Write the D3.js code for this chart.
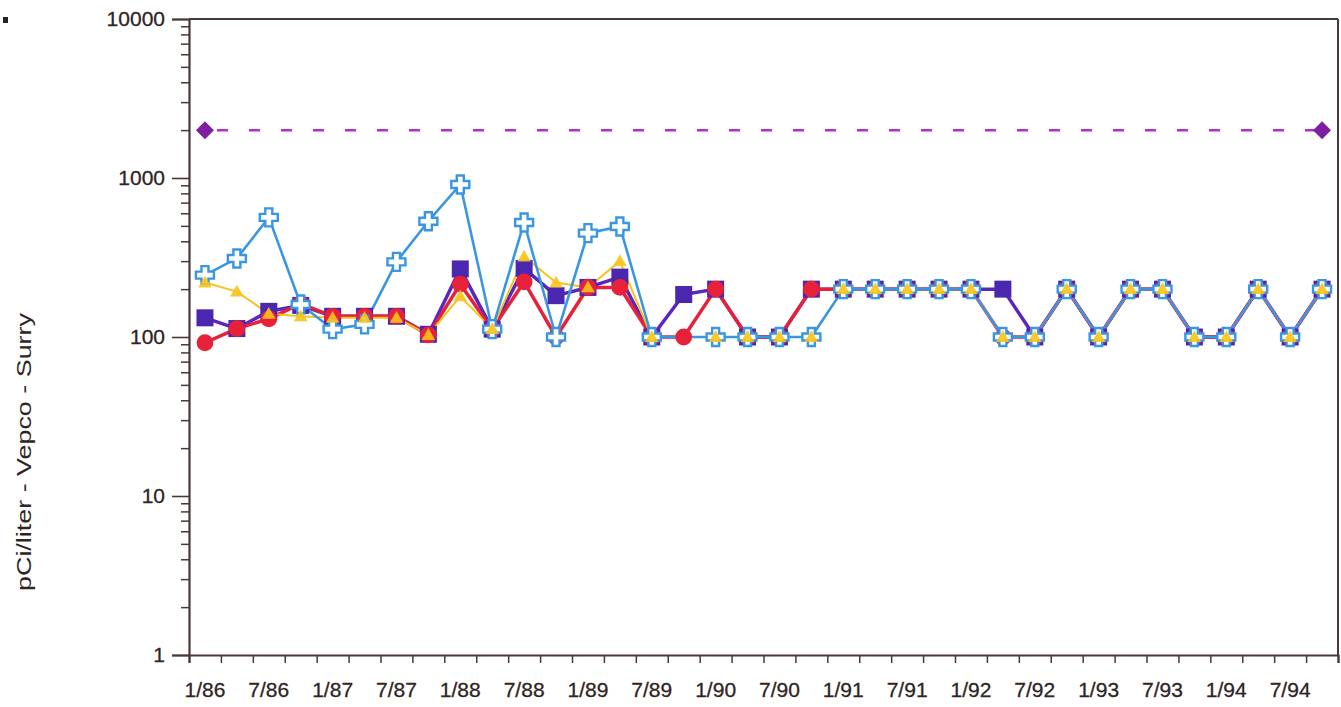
<!DOCTYPE html>
<html>
<head>
<meta charset="utf-8">
<script src="https://cdn.jsdelivr.net/npm/d3@7"></script>
<style>
  html, body { margin: 0; padding: 0; background: #fff; }
  svg { display: block; }
  text { font-family: "Liberation Sans", Arial, sans-serif; fill: #2f2424; }
</style>
</head>
<body>
<svg id="chart" width="1341" height="707"></svg>
<script>
// ---------------- DATA ----------------
const categories = ["1/86","4/86","7/86","10/86","1/87","4/87","7/87","10/87",
  "1/88","4/88","7/88","10/88","1/89","4/89","7/89","10/89",
  "1/90","4/90","7/90","10/90","1/91","4/91","7/91","10/91",
  "1/92","4/92","7/92","10/92","1/93","4/93","7/93","10/93",
  "1/94","4/94","7/94","10/94"];
const tickLabels = ["1/86","7/86","1/87","7/87","1/88","7/88","1/89","7/89","1/90",
  "7/90","1/91","7/91","1/92","7/92","1/93","7/93","1/94","7/94"];
const yTickValues = [1, 10, 100, 1000, 10000];

const seriesSquare = [132,113,145,158,135,135,135,104,268,112,270,182,205,238,100,185,
  200,100,100,200,200,200,200,200,200,200,100,200,100,200,200,100,100,200,100,200];
const seriesCircle = [92,113,130,162,135,135,135,103,215,112,222,100,205,205,100,100,
  200,100,100,200,200,200,200,200,200,100,100,200,100,200,200,100,100,200,100,200];
const seriesTriangle = [220,193,140,135,132,132,132,103,180,112,320,220,205,300,100,null,
  100,100,100,100,200,200,200,200,200,100,100,200,100,200,200,100,100,200,100,200];
const seriesCross = [245,312,565,160,112,120,297,535,910,112,525,100,450,495,100,null,
  100,100,100,100,200,200,200,200,200,100,100,200,100,200,200,100,100,200,100,200];
const limitCategories = ["1/86","10/94"];
const limitValues = [2000, 2000];

// ---------------- LAYOUT ----------------
const svg = d3.select("#chart");
const mLeft = 189, mRight = 1338, mTop = 19, mBottom = 655;
const axisColor = "#4a3838";

const x = d3.scaleBand().domain(categories).range([mLeft, mRight]).padding(0);
const bw = x.bandwidth();
const cx = c => x(c) + bw / 2;
const y = d3.scaleLog().domain([1, 10000]).range([mBottom, mTop]);
const xb = d3.scaleLinear().domain([0, categories.length]).range([mLeft, mRight]);

// stray scan mark
svg.append("rect").attr("x", 3).attr("y", 17).attr("width", 5).attr("height", 6).attr("fill", "#222");

// frame (top + right)
svg.append("line").attr("x1", mLeft).attr("x2", mRight).attr("y1", mTop).attr("y2", mTop)
  .attr("stroke", axisColor).attr("stroke-width", 2);
svg.append("line").attr("x1", mRight).attr("x2", mRight).attr("y1", mTop).attr("y2", mBottom)
  .attr("stroke", axisColor).attr("stroke-width", 2);

// y axis: minor ticks
const minor = [];
for (let d = 1; d < 10000; d *= 10) for (let k = 2; k <= 9; k++) minor.push(d * k);
const yMinor = svg.append("g").attr("transform", `translate(${mLeft},0)`)
  .call(d3.axisLeft(y).tickValues(minor).tickSize(8).tickFormat(""));
yMinor.select(".domain").remove();
yMinor.selectAll("line").attr("stroke", axisColor).attr("stroke-width", 1.5);

// y axis: major
const yAx = svg.append("g").attr("transform", `translate(${mLeft},0)`)
  .call(d3.axisLeft(y).tickValues(yTickValues).tickSize(17).tickPadding(7).tickFormat(d3.format("d")));
yAx.select(".domain").attr("stroke", axisColor).attr("stroke-width", 2.2);
yAx.selectAll("line").attr("stroke", axisColor).attr("stroke-width", 1.6);
yAx.selectAll("text").style("font-size", "21px").attr("fill", "#2f2424")
  .attr("stroke", "#2f2424").attr("stroke-width", 0.3);

// x axis: boundary ticks
const xTicks = svg.append("g").attr("transform", `translate(0,${mBottom})`)
  .call(d3.axisBottom(xb).tickValues(d3.range(categories.length + 1)).tickSize(8).tickFormat(""));
xTicks.select(".domain").attr("stroke", axisColor).attr("stroke-width", 2.2);
xTicks.selectAll("line").attr("stroke", axisColor).attr("stroke-width", 1.5);

// x axis: labels at category centres
const xLab = svg.append("g").attr("transform", `translate(0,${mBottom})`)
  .call(d3.axisBottom(x).tickValues(tickLabels).tickSize(0).tickPadding(27));
xLab.select(".domain").remove();
xLab.selectAll("text").style("font-size", "21px").attr("fill", "#2f2424")
  .attr("stroke", "#2f2424").attr("stroke-width", 0.3);

// y axis title
svg.append("text")
  .attr("transform", "translate(31,452) rotate(-90)")
  .attr("text-anchor", "middle")
  .attr("textLength", 278)
  .attr("lengthAdjust", "spacingAndGlyphs")
  .style("font-size", "21px")
  .text("pCi/liter - Vepco - Surry");

// ---------------- SERIES ----------------
function pts(vals) {
  return categories.map((c, i) => ({c, v: vals[i]})).filter(d => d.v != null);
}
const line = d3.line().x(d => cx(d.c)).y(d => y(d.v));

const cols = {
  square: "#4b27b0", squareLine: "#5a26c0",
  circle: "#e8213a",
  tri: "#f6c41c",
  cross: "#3a96e2",
  limit: "#b62ccc", diamond: "#7d1fa0"
};

// limit line
const limPts = limitCategories.map((c, i) => ({c, v: limitValues[i]}));
svg.append("path").attr("d", line(limPts)).attr("fill", "none")
  .attr("stroke", cols.limit).attr("stroke-width", 2.5)
  .attr("stroke-dasharray", "11,21").attr("stroke-dashoffset", -12);

// lines
svg.append("path").attr("d", line(pts(seriesSquare))).attr("fill", "none")
  .attr("stroke", cols.squareLine).attr("stroke-width", 3.5).attr("stroke-linejoin", "round");
svg.append("path").attr("d", line(pts(seriesCircle))).attr("fill", "none")
  .attr("stroke", cols.circle).attr("stroke-width", 3.5).attr("stroke-linejoin", "round");
svg.append("path").attr("d", line(pts(seriesTriangle))).attr("fill", "none")
  .attr("stroke", cols.tri).attr("stroke-width", 2).attr("stroke-linejoin", "round");
svg.append("path").attr("d", line(pts(seriesCross))).attr("fill", "none")
  .attr("stroke", cols.cross).attr("stroke-width", 2.6).attr("stroke-linejoin", "round");

// markers
svg.append("g").selectAll("rect").data(pts(seriesSquare)).join("rect")
  .attr("x", d => cx(d.c) - 8.5).attr("y", d => y(d.v) - 8.5)
  .attr("width", 17).attr("height", 17).attr("fill", cols.square);

svg.append("g").selectAll("circle").data(pts(seriesCircle)).join("circle")
  .attr("cx", d => cx(d.c)).attr("cy", d => y(d.v)).attr("r", 8.4).attr("fill", cols.circle);

const crossPath = "M-3.5,-9L3.5,-9L3.5,-3.5L9,-3.5L9,3.5L3.5,3.5L3.5,9L-3.5,9L-3.5,3.5L-9,3.5L-9,-3.5L-3.5,-3.5Z";
svg.append("g").selectAll("path").data(pts(seriesCross)).join("path")
  .attr("d", crossPath)
  .attr("transform", d => `translate(${cx(d.c)},${y(d.v)})`)
  .attr("fill", "#fff").attr("stroke", cols.cross).attr("stroke-width", 2.4);

svg.append("g").selectAll("path").data(pts(seriesTriangle)).join("path")
  .attr("d", d3.symbol(d3.symbolTriangle, 80)())
  .attr("transform", d => `translate(${cx(d.c)},${y(d.v) + 1})`)
  .attr("fill", cols.tri).attr("opacity", 0.9);

svg.append("g").selectAll("path").data(limPts).join("path")
  .attr("d", "M0,-9L9,0L0,9L-9,0Z")
  .attr("transform", d => `translate(${cx(d.c)},${y(d.v)})`)
  .attr("fill", cols.diamond);
</script>
</body>
</html>
